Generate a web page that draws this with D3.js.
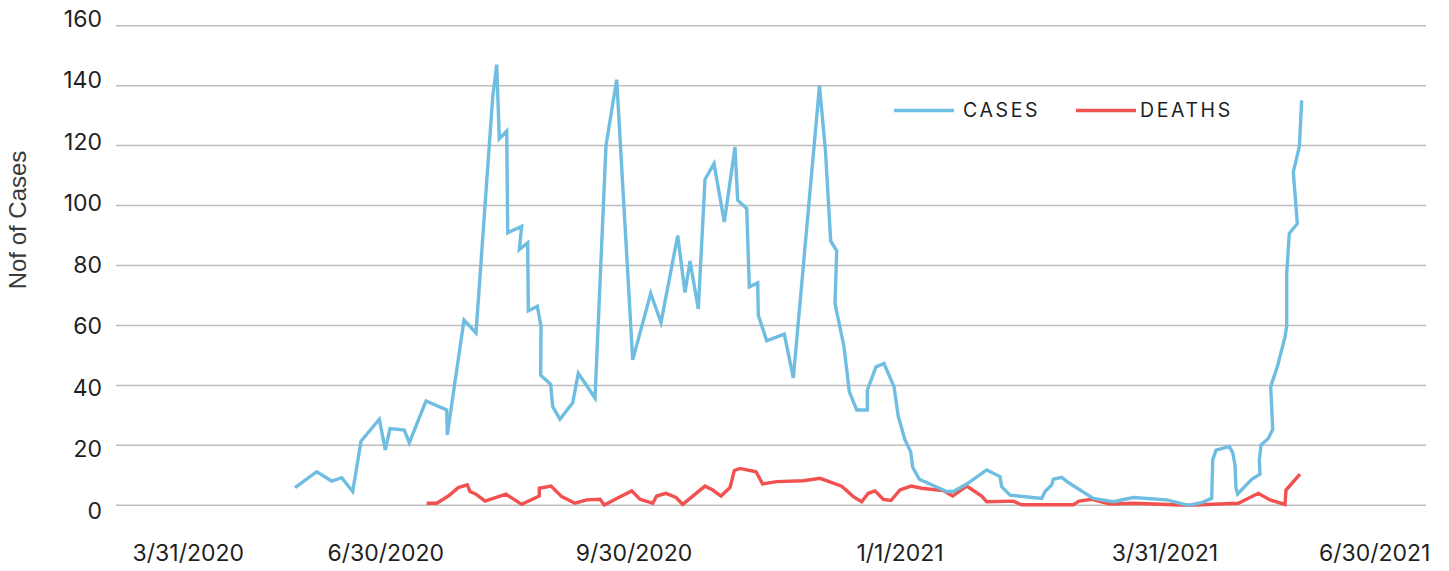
<!DOCTYPE html>
<html>
<head>
<meta charset="utf-8">
<script src="https://cdn.jsdelivr.net/npm/d3@7"></script>
<style>
  html, body { margin: 0; padding: 0; background: #fff; }
  svg { display: block; }
</style>
</head>
<body>
<svg id="chart" width="1449" height="571"></svg>
<script>
// ---- data ----
// x values are positions along the category axis (slot index units)
const casesX = [17.9,20.07,21.57,22.57,23.67,24.5,26.33,26.93,27.4,28.83,29.33,31.0,33.07,33.13,34.8,36.0,37.67,38.07,38.33,39.07,39.17,40.57,40.33,41.17,41.23,42.13,42.5,42.47,43.47,43.67,44.4,45.67,46.23,47.9,49.0,50.07,51.67,53.47,54.5,56.17,56.9,57.4,58.23,58.9,59.8,60.83,61.9,62.17,63.07,63.33,64.17,64.23,65.07,66.83,67.73,70.35,70.95,71.47,72.07,71.9,72.8,73.33,74.07,75.13,75.13,76.0,76.8,77.8,78.23,78.9,79.47,79.67,80.33,83.07,83.73,85.07,87.07,88.4,88.57,89.4,92.57,92.9,93.57,93.73,94.57,95.23,97.73,99.73,101.73,105.07,107.23,108.57,109.57,109.67,110.0,111.33,111.67,111.9,112.0,112.17,113.57,114.4,114.33,114.5,115.23,115.67,115.47,116.13,116.9,117.07,117.07,117.33,118.13,117.73,118.33,118.57];
const casesY = [5.9,11.2,8.1,9.2,4.6,21.4,28.7,18.5,25.6,25.1,20.8,34.8,31.8,23.5,61.8,57.5,136.2,147,122.3,124.8,90.9,93.1,85.3,87.6,64.9,66.4,59.6,43.4,40.4,32.9,28.7,34.2,44,35.8,120.1,142,48.5,70.7,61,90,71,81.5,65.5,108.7,114,94.5,119.5,101.8,99,72.9,74.2,63.4,54.9,57.1,42.5,140,118,88.2,84.9,67.3,52.9,37.9,31.8,31.8,38.4,46.2,47.3,39.6,29.6,21.8,17.9,12.7,8.7,4.6,4.6,7.1,11.8,9.6,6.2,3.4,2.3,4.6,6.8,8.7,9.3,7.6,2.3,1.2,2.6,1.8,0,0.9,2.3,15.1,18.4,19.6,17.6,13.4,5.7,3.8,8.7,10.4,15.1,20.1,22.3,25.3,39.6,46.2,56.2,59.8,77.3,90.7,94,111.2,119.6,135.1];

const deathsX = [31.07,32.07,33.23,34.23,35.13,35.4,36.0,36.9,39.0,40.57,42.33,42.33,43.5,44.57,45.9,47.07,48.4,48.83,50.07,51.57,52.4,53.67,54.07,55.0,56.0,56.67,58.9,59.67,60.5,61.4,61.83,62.4,64.0,64.67,66.07,68.73,70.4,72.57,73.73,74.57,75.23,75.9,76.73,77.5,78.4,79.5,80.57,82.73,83.67,85.07,86.57,87.07,89.73,90.57,95.73,96.3,97.57,99.4,101.73,107.23,112.23,114.23,115.4,116.9,117.0,118.4];
const deathsY = [0.7,0.7,3.1,5.9,6.8,4.6,3.7,1.4,3.7,0.3,3.1,5.7,6.4,2.9,0.7,1.8,2,0.1,2.3,4.8,2,0.7,3.1,4,2.6,0.3,6.4,5.1,3.1,5.9,11.6,12.3,11.2,7.1,7.9,8.2,9,6.4,2.9,1.2,4,4.8,2,1.6,5.1,6.4,5.7,4.9,3.1,6.4,3.1,1.2,1.4,0.2,0.2,1.4,2,0.4,0.7,0,0.7,4,1.8,0.3,5.1,10.4];

const xTickLabels = ["3/31/2020","6/30/2020","9/30/2020","1/1/2021","3/31/2021","6/30/2021"];
const xTickSlots  = [7.23, 26.98, 51.8, 78.4, 104.9, 125.87];
const yTicks = [0,20,40,60,80,100,120,140,160];
const seriesNames = ["CASES","DEATHS"];
const xDomain = [0, 131];
const yDomain = [0, 160];

// ---- layout ----
const W = 1449, H = 571;
const plot = {left: 116, right: 1426, top: 25.7, bottom: 505.3};
const colors = {CASES: "#6fbee2", DEATHS: "#f1514f"};

const svg = d3.select("#chart");
const x = d3.scaleLinear().domain(xDomain).range([plot.left, plot.right]);
const y = d3.scaleLinear().domain(yDomain).range([plot.bottom, plot.top]);
const yLab = d3.scaleLinear().domain(yDomain).range([plot.bottom + 5, plot.top - 7]);

// gridlines
svg.append("g").selectAll("line").data(yTicks).join("line")
  .attr("x1", plot.left).attr("x2", plot.right)
  .attr("y1", d => y(d)).attr("y2", d => y(d))
  .attr("stroke", "#bdbdbd").attr("stroke-width", 1.5);

// y tick labels
svg.append("g").selectAll("text").data(yTicks).join("text")
  .attr("x", 102).attr("y", d => yLab(d))
  .attr("dy", "0.36em")
  .attr("text-anchor", "end")
  .attr("font-family", "Inter, 'Noto Sans', sans-serif")
  .attr("font-size", 23)
  .attr("fill", "#1f1f1f")
  .text(d => d);

// x tick labels
svg.append("g").selectAll("text").data(xTickLabels).join("text")
  .attr("x", (d, i) => x(xTickSlots[i])).attr("y", 561)
  .attr("text-anchor", "middle")
  .attr("font-family", "Inter, 'Noto Sans', sans-serif")
  .attr("font-size", 23)
  .attr("fill", "#1f1f1f")
  .text(d => d);

// y axis title
svg.append("text")
  .attr("transform", "translate(26,220) rotate(-90)")
  .attr("text-anchor", "middle")
  .attr("font-family", "'Liberation Sans', Arial, sans-serif")
  .attr("font-size", 24)
  .attr("fill", "#3a3a3a")
  .text("Nof of Cases");

// lines
const line = d3.line().x(d => x(d[0])).y(d => y(d[1]));
const casesData = casesX.map((v, i) => [v, casesY[i]]);
const deathsData = deathsX.map((v, i) => [v, deathsY[i]]);

svg.append("path").datum(deathsData)
  .attr("d", line).attr("fill", "none")
  .attr("stroke", colors.DEATHS).attr("stroke-width", 3.4)
  .attr("stroke-linejoin", "miter");
svg.append("path").datum(casesData)
  .attr("d", line).attr("fill", "none")
  .attr("stroke", colors.CASES).attr("stroke-width", 3.4)
  .attr("stroke-linejoin", "miter");

// legend
const legend = svg.append("g");
const legendItems = [
  {name: seriesNames[0], lx: 894, tx: 963},
  {name: seriesNames[1], lx: 1076, tx: 1140}
];
legendItems.forEach(it => {
  legend.append("line")
    .attr("x1", it.lx).attr("x2", it.lx + 60)
    .attr("y1", 110.5).attr("y2", 110.5)
    .attr("stroke", colors[it.name]).attr("stroke-width", 3.4);
  legend.append("text")
    .attr("x", it.tx).attr("y", 117)
    .attr("font-family", "Inter, 'Noto Sans', sans-serif")
    .attr("font-size", 19.5)
    .attr("letter-spacing", 2.6)
    .attr("fill", "#1f1f1f")
    .text(it.name);
});
</script>
</body>
</html>
